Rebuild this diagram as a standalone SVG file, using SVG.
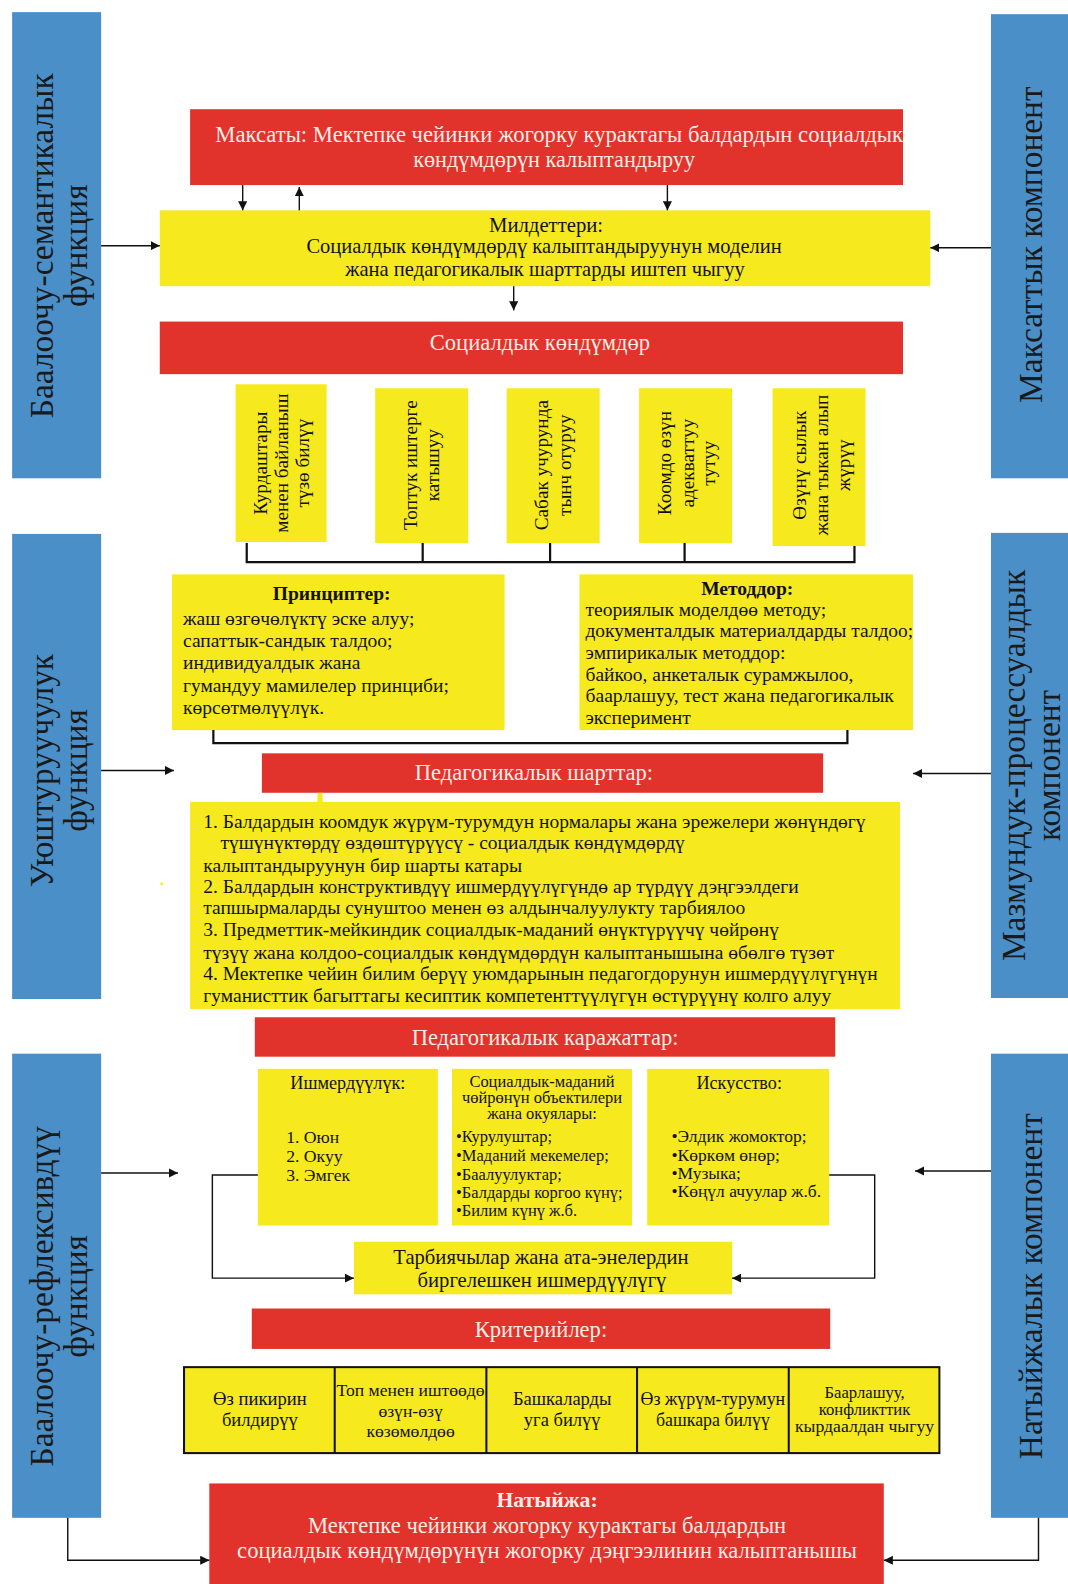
<svg xmlns="http://www.w3.org/2000/svg" width="1068" height="1584" viewBox="0 0 1068 1584">
<defs>
<style>
.red{fill:#E1322B}
.yel{fill:#F6EA1F}
.blue{fill:#4A8FC7}
.wt{fill:#FBEDE6;font-family:'Liberation Serif','Times New Roman',serif}
.bt{fill:#111;font-family:'Liberation Serif','Times New Roman',serif}
.bar{fill:#1a1a1a;font-family:'Liberation Serif','Times New Roman',serif;font-size:33px}
.c{text-anchor:middle}
.sk{font-size:19px}
.conn{stroke:#111;stroke-width:1.4;fill:none}
.brk{stroke:#111;stroke-width:2.2;fill:none}
</style>
<marker id="ah" viewBox="0 0 10 10" refX="10" refY="5" markerWidth="9" markerHeight="9" markerUnits="userSpaceOnUse" orient="auto">
<path d="M0,0 L10,5 L0,10 z" fill="#111"/>
</marker>
</defs>
<rect width="1068" height="1584" fill="#FFFFFF"/>
<g transform="scale(1.0112)">

<!-- side bars -->
<g id="bar-l1">
<rect class="blue" x="12" y="12" width="88" height="461"/>
<g transform="translate(57,243) rotate(-90)"><text class="bar c" x="0" y="-5">Баалоочу-семантикалык</text><text class="bar c" x="0" y="29">функция</text></g>
</g>
<g id="bar-l2">
<rect class="blue" x="12" y="528" width="88" height="460"/>
<g transform="translate(57,762) rotate(-90)"><text class="bar c" x="0" y="-5">Уюштуруучулук</text><text class="bar c" x="0" y="29">функция</text></g>
</g>
<g id="bar-l3">
<rect class="blue" x="12" y="1042" width="88" height="459"/>
<g transform="translate(57,1282) rotate(-90)"><text class="bar c" x="0" y="-5">Баалоочу-рефлексивдүү</text><text class="bar c" x="0" y="29">функция</text></g>
</g>
<g id="bar-r1">
<rect class="blue" x="980" y="14" width="80" height="459"/>
<g transform="translate(1019,242) rotate(-90)"><text class="bar c" x="0" y="11">Максаттык компонент</text></g>
</g>
<g id="bar-r2">
<rect class="blue" x="980" y="527" width="80" height="460"/>
<g transform="translate(1019,757) rotate(-90)"><text class="bar c" x="0" y="-5">Мазмундук-процессуалдык</text><text class="bar c" x="0" y="29">компонент</text></g>
</g>
<g id="bar-r3">
<rect class="blue" x="980" y="1042" width="80" height="459"/>
<g transform="translate(1019,1272) rotate(-90)"><text class="bar c" x="0" y="11">Натыйжалык компонент</text></g>
</g>

<!-- goal -->
<g id="goal">
<rect class="red" x="188" y="108" width="705" height="75"/>
<text class="wt c" x="553" y="140" font-size="22" textLength="680" lengthAdjust="spacingAndGlyphs">Максаты: Мектепке чейинки жогорку курактагы балдардын социалдык</text>
<text class="wt c" x="548" y="165" font-size="22">көндүмдөрүн калыптандыруу</text>
</g>

<!-- tasks -->
<g id="tasks">
<rect class="yel" x="158" y="208" width="762" height="75"/>
<text class="bt c" x="540" y="229" font-size="20.5">Милдеттери:</text>
<text class="bt c" x="538" y="250" font-size="20.5" textLength="470" lengthAdjust="spacingAndGlyphs">Социалдык көндүмдөрдү калыптандыруунун моделин</text>
<text class="bt c" x="539" y="273" font-size="20.5" textLength="395" lengthAdjust="spacingAndGlyphs">жана педагогикалык шарттарды иштеп чыгуу</text>
</g>

<!-- social skills -->
<g id="skills">
<rect class="red" x="158" y="318" width="735" height="52"/>
<text class="wt c" x="534" y="346" font-size="22.3">Социалдык көндүмдөр</text>
</g>

<g id="skill1">
<rect class="yel" x="233" y="380" width="90" height="156"/>
<g transform="translate(278,458) rotate(-90)"><text class="bt c sk" y="-14">Курдаштары</text><text class="bt c sk" y="7">менен байланыш</text><text class="bt c sk" y="28">түзө билүү</text></g>
</g>
<g id="skill2">
<rect class="yel" x="371" y="384" width="92" height="153"/>
<g transform="translate(417,460) rotate(-90)"><text class="bt c sk" y="-5">Топтук иштерге</text><text class="bt c sk" y="17">катышуу</text></g>
</g>
<g id="skill3">
<rect class="yel" x="501" y="384" width="92" height="153"/>
<g transform="translate(547,460) rotate(-90)"><text class="bt c sk" y="-5">Сабак учурунда</text><text class="bt c sk" y="18">тынч отуруу</text></g>
</g>
<g id="skill4">
<rect class="yel" x="632" y="384" width="92" height="153"/>
<g transform="translate(678,458) rotate(-90)"><text class="bt c sk" y="-14">Коомдо өзүн</text><text class="bt c sk" y="8">адекваттуу</text><text class="bt c sk" y="29">тутуу</text></g>
</g>
<g id="skill5">
<rect class="yel" x="764" y="384" width="92" height="156"/>
<g transform="translate(810,460) rotate(-90)"><text class="bt c sk" y="-13">Өзүнү сылык</text><text class="bt c sk" y="9">жана тыкан алып</text><text class="bt c sk" y="31">жүрүү</text></g>
</g>

<!-- principles -->
<g id="principles">
<rect class="yel" x="170" y="568" width="329" height="154"/>
<text class="bt c" x="328" y="593" font-size="19.3" font-weight="bold">Принциптер:</text>
<text class="bt" x="181" y="618" font-size="19.3">жаш өзгөчөлүктү эске алуу;</text>
<text class="bt" x="181" y="640" font-size="19.3">сапаттык-сандык талдоо;</text>
<text class="bt" x="181" y="662" font-size="19.3">индивидуалдык жана</text>
<text class="bt" x="181" y="684" font-size="19.3">гумандуу мамилелер принциби;</text>
<text class="bt" x="181" y="706" font-size="19.3">көрсөтмөлүүлүк.</text>
</g>

<!-- methods -->
<g id="methods">
<rect class="yel" x="573" y="568" width="330" height="154"/>
<text class="bt c" x="739" y="588" font-size="19.3" font-weight="bold">Методдор:</text>
<text class="bt" x="579" y="609" font-size="19.3">теориялык моделдөө методу;</text>
<text class="bt" x="579" y="630" font-size="19.3" textLength="324" lengthAdjust="spacingAndGlyphs">документалдык материалдарды талдоо;</text>
<text class="bt" x="579" y="652" font-size="19.3">эмпирикалык методдор:</text>
<text class="bt" x="579" y="673" font-size="19.3">байкоо, анкеталык сурамжылоо,</text>
<text class="bt" x="579" y="694" font-size="19.3" textLength="305" lengthAdjust="spacingAndGlyphs">баарлашуу, тест жана педагогикалык</text>
<text class="bt" x="579" y="716" font-size="19.3">эксперимент</text>
</g>

<!-- pedagogical conditions -->
<g id="conditions-title">
<rect class="red" x="259" y="745" width="555" height="39"/>
<text class="wt c" x="528" y="771" font-size="22.3">Педагогикалык шарттар:</text>
</g>
<g id="conditions">
<rect class="yel" x="188" y="793" width="702" height="205"/>
<rect class="yel" x="314" y="784" width="5" height="10"/>
<text class="bt" x="201" y="819" font-size="19.3" textLength="655" lengthAdjust="spacingAndGlyphs">1. Балдардын коомдук жүрүм-турумдун нормалары жана эрежелери жөнүндөгү</text>
<text class="bt" x="218" y="840" font-size="19.3">түшүнүктөрдү өздөштүрүүсү - социалдык көндүмдөрдү</text>
<text class="bt" x="201" y="862" font-size="19.3">калыптандыруунун бир шарты катары</text>
<text class="bt" x="201" y="883" font-size="19.3">2. Балдардын конструктивдүү ишмердүүлүгүндө ар түрдүү дэңгээлдеги</text>
<text class="bt" x="201" y="904" font-size="19.3">тапшырмаларды сунуштоо менен өз алдынчалуулукту тарбиялоо</text>
<text class="bt" x="201" y="926" font-size="19.3">3. Предметтик-мейкиндик социалдык-маданий өнүктүрүүчү чөйрөнү</text>
<text class="bt" x="201" y="948" font-size="19.3" textLength="624" lengthAdjust="spacingAndGlyphs">түзүү жана колдоо-социалдык көндүмдөрдүн калыптанышына өбөлгө түзөт</text>
<text class="bt" x="201" y="969" font-size="19.3" textLength="667" lengthAdjust="spacingAndGlyphs">4. Мектепке чейин билим берүү уюмдарынын педагогдорунун ишмердүүлүгүнүн</text>
<text class="bt" x="201" y="991" font-size="19.3" textLength="621" lengthAdjust="spacingAndGlyphs">гуманисттик багыттагы кесиптик компетенттүүлүгүн өстүрүүнү колго алуу</text>
</g>
<circle cx="160" cy="874" r="1.5" fill="#F6EA1F"/>

<!-- pedagogical means -->
<g id="means-title">
<rect class="red" x="252" y="1006" width="574" height="39"/>
<text class="wt c" x="539" y="1033" font-size="22.3">Педагогикалык каражаттар:</text>
</g>
<g id="means-activity">
<rect class="yel" x="255" y="1057" width="178" height="155"/>
<text class="bt c" x="344" y="1077" font-size="18">Ишмердүүлүк:</text>
<text class="bt" x="283" y="1130" font-size="17.5">1. Оюн</text>
<text class="bt" x="283" y="1149" font-size="17.5">2. Окуу</text>
<text class="bt" x="283" y="1168" font-size="17.5">3. Эмгек</text>
</g>
<g id="means-env">
<rect class="yel" x="447" y="1057" width="178" height="155"/>
<text class="bt c" x="536" y="1075" font-size="16.3">Социалдык-маданий</text>
<text class="bt c" x="536" y="1091" font-size="16.3">чөйрөнүн объектилери</text>
<text class="bt c" x="536" y="1107" font-size="16.3">жана окуялары:</text>
<text class="bt" x="451" y="1129" font-size="16.3">•Курулуштар;</text>
<text class="bt" x="451" y="1148" font-size="16.3">•Маданий мекемелер;</text>
<text class="bt" x="451" y="1167" font-size="16.3">•Баалуулуктар;</text>
<text class="bt" x="451" y="1185" font-size="16.3">•Балдарды коргоо күнү;</text>
<text class="bt" x="451" y="1203" font-size="16.3">•Билим күнү ж.б.</text>
</g>
<g id="means-art">
<rect class="yel" x="640" y="1057" width="180" height="155"/>
<text class="bt c" x="731" y="1077" font-size="18">Искусство:</text>
<text class="bt" x="664" y="1129" font-size="17.3">•Элдик жомоктор;</text>
<text class="bt" x="664" y="1148" font-size="17.3">•Көркөм өнөр;</text>
<text class="bt" x="664" y="1166" font-size="17.3">•Музыка;</text>
<text class="bt" x="664" y="1184" font-size="17.3">•Көңүл ачуулар ж.б.</text>
</g>
<g id="joint">
<rect class="yel" x="350" y="1228" width="374" height="52"/>
<text class="bt c" x="535" y="1250" font-size="20.4">Тарбиячылар жана ата-энелердин</text>
<text class="bt c" x="536" y="1273" font-size="20.4">биргелешкен ишмердүүлүгү</text>
</g>

<!-- criteria -->
<g id="criteria-title">
<rect class="red" x="249" y="1294" width="572" height="40"/>
<text class="wt c" x="535" y="1322" font-size="22.3">Критерийлер:</text>
</g>
<g id="criteria">
<rect class="yel" x="182" y="1352" width="747" height="85" stroke="#111" stroke-width="2"/>
<path d="M331,1352 V1437 M481,1352 V1437 M630,1352 V1437 M780,1352 V1437" stroke="#111" stroke-width="2"/>
<text class="bt c" x="257" y="1389" font-size="18.4">Өз пикирин</text>
<text class="bt c" x="257" y="1410" font-size="18.4">билдирүү</text>
<text class="bt c" x="406" y="1381" font-size="17.4">Топ менен иштөөдө</text>
<text class="bt c" x="406" y="1401" font-size="17.4">өзүн-өзү</text>
<text class="bt c" x="406" y="1421" font-size="17.4">көзөмөлдөө</text>
<text class="bt c" x="556" y="1389" font-size="18.3">Башкаларды</text>
<text class="bt c" x="556" y="1410" font-size="18.3">уга билүү</text>
<text class="bt c" x="705" y="1389" font-size="17.7">Өз жүрүм-турумун</text>
<text class="bt c" x="705" y="1410" font-size="17.7">башкара билүү</text>
<text class="bt c" x="855" y="1383" font-size="16.5">Баарлашуу,</text>
<text class="bt c" x="855" y="1399" font-size="16.5">конфликттик</text>
<text class="bt c" x="855" y="1416" font-size="17.5">кырдаалдан чыгуу</text>
</g>

<!-- result -->
<g id="result">
<rect class="red" x="207" y="1467" width="667" height="103"/>
<text class="wt c" x="541" y="1490" font-size="21.5" font-weight="bold">Натыйжа:</text>
<text class="wt c" x="541" y="1516" font-size="22" textLength="473" lengthAdjust="spacingAndGlyphs">Мектепке чейинки жогорку курактагы балдардын</text>
<text class="wt c" x="541" y="1541" font-size="22" textLength="613" lengthAdjust="spacingAndGlyphs">социалдык көндүмдөрүнүн жогорку дэңгээлинин калыптанышы</text>
</g>

<!-- connectors -->
<g id="connectors">
<path class="conn" d="M240,183 V208" marker-end="url(#ah)"/>
<path class="conn" d="M296,208 V185" marker-end="url(#ah)"/>
<path class="conn" d="M660,183 V208" marker-end="url(#ah)"/>
<path class="conn" d="M508,283 V307" marker-end="url(#ah)"/>
<path class="conn" d="M100,243 H158" marker-end="url(#ah)"/>
<path class="conn" d="M980,245 H920" marker-end="url(#ah)"/>
<path class="brk" d="M244,537 V556 H845 V540 M418,537 V556 M544,537 V556 M677,537 V556"/>
<path class="brk" d="M211,722 V735 H838 V722"/>
<path class="conn" d="M100,762 H172" marker-end="url(#ah)"/>
<path class="conn" d="M980,765 H903" marker-end="url(#ah)"/>
<path class="conn" d="M100,1160 H176" marker-end="url(#ah)"/>
<path class="conn" d="M980,1158 H905" marker-end="url(#ah)"/>
<path class="conn" d="M255,1162 H210 V1264 H350" marker-end="url(#ah)"/>
<path class="conn" d="M820,1162 H865 V1264 H724" marker-end="url(#ah)"/>
<path class="conn" d="M67,1501 V1543 H207" marker-end="url(#ah)"/>
<path class="conn" d="M1027,1501 V1543 H874" marker-end="url(#ah)"/>
</g>
</g>
</svg>
